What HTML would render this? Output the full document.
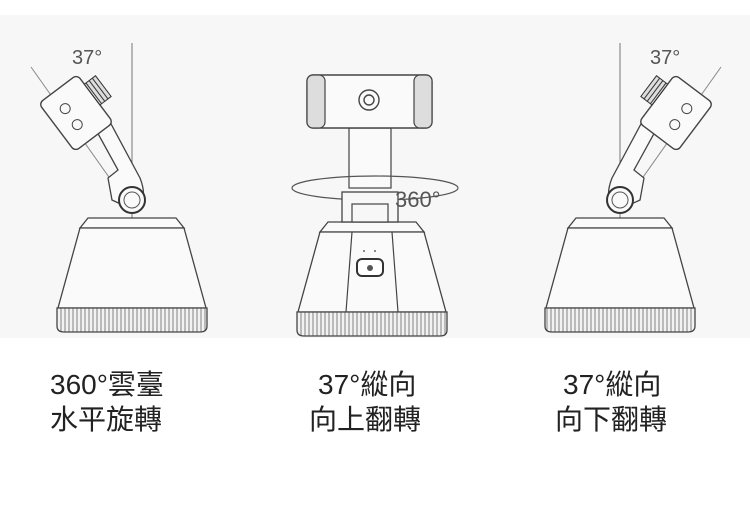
<!DOCTYPE html>
<html><head><meta charset="utf-8"><style>
body{margin:0;width:750px;height:505px;background:#fff;overflow:hidden;position:relative;font-family:"Liberation Sans","Noto Sans CJK TC",sans-serif}
svg{position:absolute;left:0;top:0}
.t{position:absolute;font-size:28px;color:#222;line-height:34px;white-space:nowrap}
</style></head><body>
<svg width="750" height="505" viewBox="0 0 750 505">
<defs>
<pattern id="rib" width="4" height="30" patternUnits="userSpaceOnUse"><rect width="4" height="30" fill="#f2f2f2"/><line x1="1" y1="0" x2="1" y2="30" stroke="#666" stroke-width="0.8"/></pattern>
<g id="base" stroke="#444" stroke-width="1.3" fill="#fafafa">
<path d="M-44 -10 L44 -10 L52 0 L-52 0 Z"/>
<path d="M-52 0 L52 0 L74 80 L-74 80 Z"/>
<path d="M-75 80 L75 80 L75 98 Q75 104 68 104 L-68 104 Q-75 104 -75 98 Z" fill="url(#rib)"/>
</g>
<g id="side">
<line x1="132" y1="43" x2="132" y2="228" stroke="#777" stroke-width="1"/>
<line x1="31" y1="67" x2="128" y2="204" stroke="#888" stroke-width="1"/>
<use href="#base" x="132" y="228"/>
<path d="M108 178 L118 170 L96 130 L110 122 L140 178 Q148 198 138 212 L112 200 Z" fill="#fafafa" stroke="#444" stroke-width="1.3"/>
<circle cx="132" cy="200" r="13" fill="#fafafa" stroke="#333" stroke-width="2"/>
<circle cx="132" cy="200" r="8" fill="none" stroke="#555" stroke-width="1"/>
<g transform="translate(76 113) rotate(-37)">
<rect x="-24" y="-30" width="48" height="60" rx="5" fill="#fafafa" stroke="#444" stroke-width="1.4"/>
<circle cx="-6" cy="-10" r="5" fill="none" stroke="#444"/>
<circle cx="-6" cy="10" r="5" fill="none" stroke="#444"/>
<rect x="24" y="-18" width="14" height="26" fill="#ddd" stroke="#333" stroke-width="1"/>
<line x1="26" y1="-18" x2="26" y2="8" stroke="#333"/><line x1="30" y1="-18" x2="30" y2="8" stroke="#333"/><line x1="34" y1="-18" x2="34" y2="8" stroke="#333"/>
</g>
</g>
</defs>
<rect x="0" y="15" width="750" height="323" fill="#f7f7f7"/>
<use href="#side"/>
<g transform="translate(752 0) scale(-1 1)"><use href="#side"/></g>
<text x="72" y="64" font-size="20" fill="#555" font-family="Liberation Sans,sans-serif">37°</text>
<text x="650" y="64" font-size="20" fill="#555" font-family="Liberation Sans,sans-serif">37°</text>
<use href="#base" x="372" y="232"/>
<line x1="352" y1="232" x2="346" y2="312" stroke="#444" stroke-width="1.2"/>
<line x1="392" y1="232" x2="398" y2="312" stroke="#444" stroke-width="1.2"/>
<rect x="357" y="259" width="26" height="17" rx="5" fill="#fff" stroke="#333" stroke-width="2"/>
<circle cx="370" cy="268" r="3" fill="#555"/>
<circle cx="364" cy="251" r="1" fill="#666"/><circle cx="375" cy="251" r="1" fill="#666"/>
<rect x="349" y="128" width="42" height="60" fill="#fafafa" stroke="#444" stroke-width="1.2"/>
<ellipse cx="375" cy="188" rx="83" ry="12" fill="none" stroke="#555" stroke-width="1.2"/>
<rect x="342" y="192" width="56" height="30" fill="#f7f7f7" stroke="#444" stroke-width="1.3"/>
<rect x="352" y="204" width="36" height="18" fill="#f7f7f7" stroke="#444" stroke-width="1.2"/>
<text x="395" y="207" font-size="22" fill="#555" font-family="Liberation Sans,sans-serif">360°</text>
<rect x="307" y="75" width="125" height="53" rx="6" fill="#fafafa" stroke="#444" stroke-width="1.4"/>
<rect x="307" y="75" width="18" height="53" rx="6" fill="#ddd" stroke="#444" stroke-width="1.2"/>
<rect x="414" y="75" width="18" height="53" rx="6" fill="#ddd" stroke="#444" stroke-width="1.2"/>
<circle cx="369" cy="100" r="10" fill="none" stroke="#444" stroke-width="1.4"/>
<circle cx="369" cy="100" r="5" fill="none" stroke="#444" stroke-width="1.4"/>
</svg>
<div class="t" style="left:50px;top:368px">360°雲臺</div>
<div class="t" style="left:50px;top:403px">水平旋轉</div>
<div class="t" style="left:318px;top:368px">37°縱向</div>
<div class="t" style="left:309px;top:403px">向上翻轉</div>
<div class="t" style="left:563px;top:368px">37°縱向</div>
<div class="t" style="left:555px;top:403px">向下翻轉</div>
</body></html>
